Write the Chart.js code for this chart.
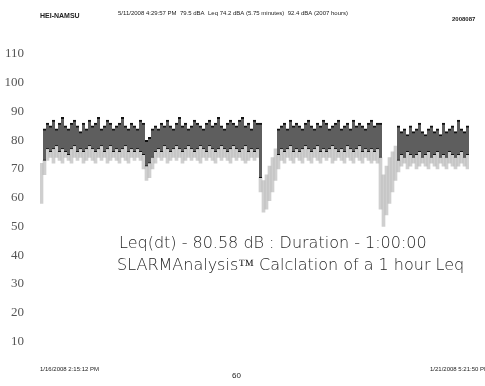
<!DOCTYPE html>
<html>
<head>
<meta charset="utf-8">
<script src="https://cdn.jsdelivr.net/npm/chart.js@4.4.3/dist/chart.umd.min.js"></script>
<style>
  html, body { margin: 0; padding: 0; background: #fff; }
  #wrap { width: 485px; height: 386px; position: relative; }
</style>
</head>
<body>
<div id="wrap"><canvas id="c"></canvas></div>
<script>
// sound level trace in 3 px slices (dB)
const bandHigh = [
  null, 84,
  86, 85, 87, 84, 86, 88, 85, 84, 86, 87, 85, 83, 86, 84, 87, 85, 86, 88, 84, 85, 87, 86, 84, 85, 86, 88, 85, 84, 86, 85, 84, 87,
  86, 80, 81, 84, 85,
  84, 86, 85, 87, 85, 84, 86, 88, 85, 86, 84, 85, 87, 86, 85, 84, 86, 87, 85, 86, 88, 85, 84, 86, 87, 86, 85, 87, 88, 85, 86, 84, 87, 86,
  86, null, null, null, null, null, 84,
  85, 86, 84, 87, 85, 86, 85, 84, 86, 87, 85, 84, 86, 85, 87, 86, 84, 85, 86, 87, 84, 85, 86, 84, 87, 85, 86, 85, 84, 86, 87, 85, 86,
  86, null, null, null, null, null, 85,
  83, 84, 82, 85, 83, 84, 86, 83, 82, 84, 85, 83, 84, 82, 86, 83, 84, 85, 83, 87, 84, 83, 85
];
const bandLow = [
  null, 73,
  77, 76, 77, 78, 76, 77, 76, 75, 77, 78, 76, 77, 76, 77, 78, 77, 76, 77, 78, 76, 77, 78, 76, 77, 76, 77, 78, 76, 77, 76, 77, 76,
  75, 71, 72, 74, 76,
  77, 76, 78, 77, 76, 77, 78, 77, 76, 77, 78, 77, 76, 77, 78, 77, 76, 78, 77, 76, 77, 78, 77, 76, 77, 78, 77, 76, 77, 78, 76, 77, 76, 77,
  67, null, null, null, null, null, 75,
  77, 76, 77, 78, 76, 77, 76, 77, 78, 77, 76, 77, 78, 76, 77, 76, 77, 78, 77, 76, 77, 76, 78, 77, 76, 77, 78, 76, 77, 76, 77, 76, 77,
  74, null, null, null, null, null, 73,
  75, 74, 76, 75, 74, 75, 76, 74, 75, 76, 74, 75, 76, 74, 75, 74, 76, 75, 74, 75, 76, 74, 75
];
// lighter scatter under the band
const fuzzLow = [
  58, 68,
  73, 74, 72, 74, 73, 72, 74, 73, 72, 74, 73, 74, 72, 73, 74, 73, 72, 74, 73, 74, 72, 73, 74, 73, 72, 74, 73, 72, 74, 73, 74, 73,
  70, 66, 67, 70, 72,
  74, 73, 74, 72, 73, 74, 73, 74, 72, 73, 74, 73, 74, 73, 72, 74, 73, 74, 73, 72, 74, 73, 74, 73, 72, 74, 73, 74, 73, 72, 73, 74, 73, 74,
  62, 55, 56, 59, 62, 66, 70,
  73, 72, 74, 73, 72, 74, 73, 72, 74, 73, 72, 74, 73, 72, 74, 73, 74, 72, 73, 74, 73, 72, 74, 73, 72, 74, 73, 72, 74, 73, 72, 73, 72,
  56, 50, 54, 58, 62, 66, 69,
  71, 72, 70, 71, 72, 70, 71, 72, 71, 70, 72, 71, 70, 72, 71, 70, 72, 71, 70, 71, 72, 71, 70
];
// top of the scatter inside the dips, where there is no band
const dipSlices = [0, 74, 75, 76, 77, 78, 114, 115, 116, 117, 118];
const dipTops = [72, 66, 68, 71, 74, 77, 68, 71, 74, 76, 78];

const yTicks = [10, 20, 30, 40, 50, 60, 70, 80, 90, 100, 110];

const headerLeft = 'HEI-NAMSU';
const headerMid = '5/11/2008 4:29:57 PM  79.5 dBA  Leq 74.2 dBA (5.75 minutes)  92.4 dBA (2007 hours)';
const headerRight = '2008087';
const footLeft = '1/16/2008 2:15:12 PM';
const footMid = '60';
const footRight = '1/21/2008 5:21:50 PM';
const note1 = 'Leq(dt) - 80.58 dB : Duration - 1:00:00';
const note2 = 'SLARMAnalysis\u2122 Calclation of a 1 hour Leq';

const labels = bandHigh.map((_, i) => String(i));
const bandData = bandHigh.map((h, i) => (h === null ? null : [bandLow[i], h]));
const fuzzData = fuzzLow.map((f, i) => {
    let top = bandLow[i];
    const k = dipSlices.indexOf(i);
    if (k >= 0) top = dipTops[k];
    return top === null ? null : [f, top];
});

const textPlugin = {
    id: 'scanText',
    afterDraw(chart) {
        const c = chart.ctx;
        c.save();
        c.fillStyle = '#222';
        c.textBaseline = 'middle';
        c.font = 'bold 7px "Liberation Sans"';
        c.textAlign = 'left';
        c.fillText(headerLeft, 40, 16);
        c.font = '6px "Liberation Sans"';
        c.fillText(headerMid, 118, 13);
        c.font = 'bold 6px "Liberation Sans"';
        c.fillText(headerRight, 452, 19);
        c.font = '6px "Liberation Sans"';
        c.fillText(footLeft, 40, 369);
        c.fillText(footRight, 430, 369);
        c.font = '8px "Liberation Sans"';
        c.fillText(footMid, 232, 376);
        c.fillStyle = '#1e1e1e';
        c.font = '200 16px "DejaVu Sans"';
        c.fillText(note1, 119, 244);
        c.fillText(note2, 117, 266);
        c.restore();
    }
};

new Chart(document.getElementById('c'), {
    type: 'bar',
    data: {
        labels: labels,
        datasets: [
            {
                label: 'scatter',
                data: fuzzData,
                backgroundColor: 'rgba(160,160,160,0.5)',
                borderWidth: 0,
                grouped: false,
                barPercentage: 1,
                categoryPercentage: 1,
                order: 2
            },
            {
                label: 'level',
                data: bandData,
                backgroundColor: '#5e5e5e',
                borderColor: '#111',
                borderWidth: { top: 2, bottom: 1, left: 0, right: 0 },
                borderSkipped: false,
                grouped: false,
                barPercentage: 1,
                categoryPercentage: 1,
                order: 1
            }
        ]
    },
    options: {
        responsive: true,
        maintainAspectRatio: false,
        animation: false,
        layout: { padding: { top: 54, bottom: 11, left: 0, right: 16 } },
        plugins: {
            legend: { display: false },
            tooltip: { enabled: false }
        },
        scales: {
            x: { display: false },
            y: {
                min: 0,
                max: 110,
                afterFit: s => { s.width = 40; },
                afterBuildTicks: s => { s.ticks = yTicks.map(v => ({ value: v })); },
                grid: { display: false },
                border: { display: false },
                ticks: {
                    padding: 8,
                    color: '#555',
                    font: { family: 'Liberation Serif', size: 13 }
                }
            }
        }
    },
    plugins: [textPlugin]
});
</script>
</body>
</html>
